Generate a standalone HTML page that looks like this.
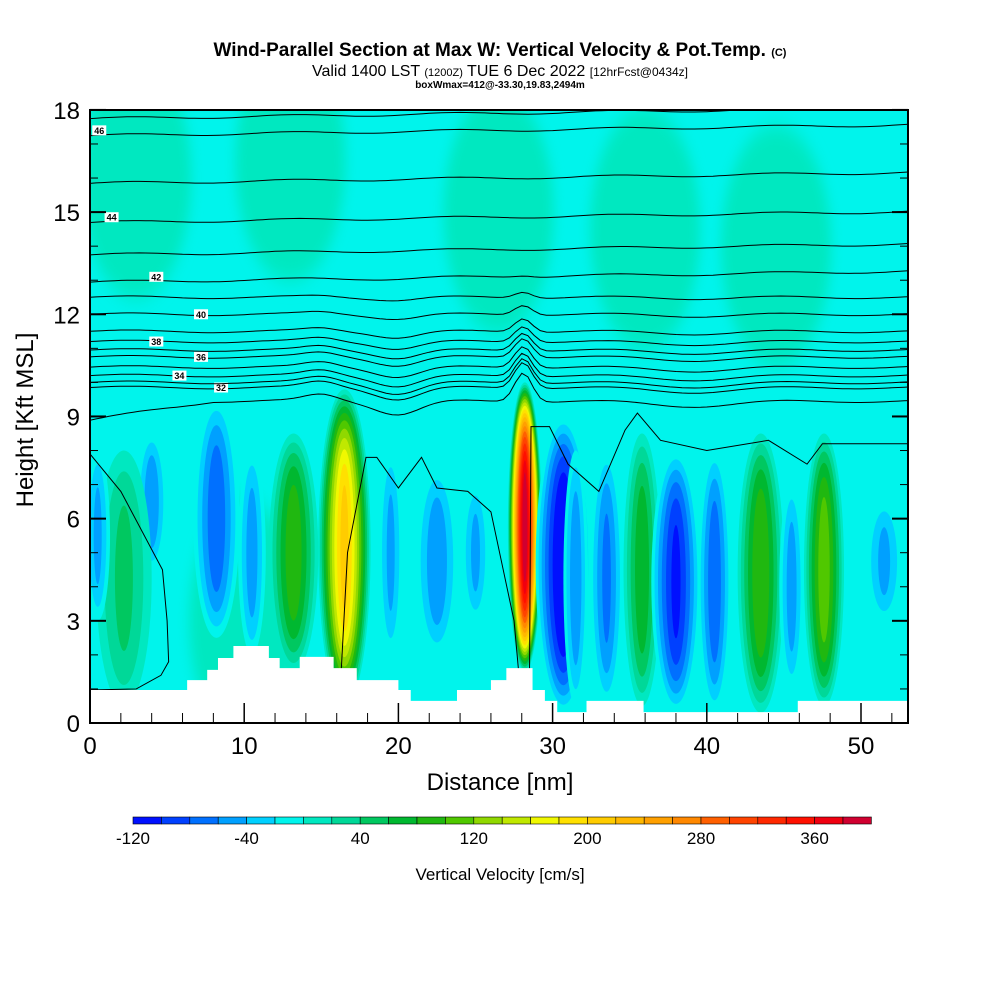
<!DOCTYPE html>
<html><head><meta charset="utf-8"><style>
body{margin:0;background:#fff;font-family:"Liberation Sans",sans-serif}
</style></head><body>
<svg id="c" width="1000" height="1000" viewBox="0 0 1000 1000" xmlns="http://www.w3.org/2000/svg">
<defs><clipPath id="pc"><rect x="90" y="110" width="818" height="613"/></clipPath>
<filter id="bl" x="-50%" y="-20%" width="200%" height="140%"><feGaussianBlur stdDeviation="6 10"/></filter></defs>
<text x="500" y="56" text-anchor="middle" font-size="19" font-weight="bold">Wind-Parallel Section at Max W: Vertical Velocity &amp; Pot.Temp. <tspan font-size="11">(C)</tspan></text>
<text x="500" y="76" text-anchor="middle" font-size="16">Valid 1400 LST <tspan font-size="11">(1200Z)</tspan> TUE 6 Dec 2022 <tspan font-size="12">[12hrFcst@0434z]</tspan></text>
<text x="500" y="88" text-anchor="middle" font-size="10" font-weight="bold">boxWmax=412@-33.30,19.83,2494m</text>
<g id="field" clip-path="url(#pc)"></g>
<g id="theta" clip-path="url(#pc)"></g>
<g id="terrain"></g>
<rect x="90" y="110" width="818" height="613" fill="none" stroke="#000" stroke-width="2"/>
<g id="axes"></g>
<text x="500" y="790" text-anchor="middle" font-size="24">Distance [nm]</text>
<text transform="translate(33,420) rotate(-90)" text-anchor="middle" font-size="24">Height [Kft MSL]</text>
<g id="cbar"></g>
<text x="500" y="880" text-anchor="middle" font-size="17">Vertical Velocity [cm/s]</text>
</svg>
<script>
const NS="http://www.w3.org/2000/svg";
const colors=["#0010ff","#0040ff","#0070ff","#00a0ff","#00d0ff","#00f4ec","#00e8c0","#00d898","#00c860","#00b830","#20b810","#50c800","#90d800","#c0e800","#f0f800","#ffe000","#ffcc00","#ffb800","#ffa000","#ff8800","#ff6000","#ff4400","#ff2800","#ff1000","#f00010","#d00030"];
const cbarTicks=[-120,-40,40,120,200,280,360];
const featX=[16.5,28.2,30.7,8.2,4.0,13.2,10.5,22.5,25,33.5,35.8,38.0,40.5,43.5,45.5,47.6,51.5,2.2,19.5,31.5,0.5];
const featBot=[0.5,1.5,0.3,2.5,4.5,1.5,2,2,3,0.5,0.5,0.3,0.3,0.3,1,0.5,3,0.5,2,0.5,3];
const featTop=[9.8,10,9,9.5,8.5,8.5,8,7.5,7,8,8.5,8,8,8.5,7,8.5,6.5,8,8,8,8];
const featW=[1.7,1.1,1.8,1.5,1.0,1.6,0.9,1.4,0.9,1.1,1.2,1.6,1.1,1.5,0.8,1.3,1.2,1.8,0.8,0.8,0.8];
const featV=[205,395,-125,-70,-50,90,-45,-50,-40,-60,70,-100,-70,95,-45,110,-40,40,-40,-50,-40];
const greenX=[3,13,26.5,36,44.5,10];
const greenY=[16,16.5,15,14.5,14,3];
const terrX=[0,6.3,7.6,8.3,9.3,11.6,12.3,13.6,15.8,17.3,20,20.8,23.8,26,27,28.7,29.5,30.3,32.2,35.9,45.9,53.2];
const terrH=[0.97,1.26,1.56,1.91,2.26,1.91,1.61,1.94,1.61,1.26,0.97,0.65,0.97,1.26,1.61,0.97,0.65,0.32,0.65,0.32,0.65,0.65];
const thetaLev=[31,32,33,34,35,36,37,38,39,40,41,42,43,44,45,46,47];
const thetaH=[9.45,9.85,10.0,10.2,10.45,10.75,10.95,11.2,11.5,12.0,12.5,13.1,13.9,14.85,16.0,17.4,17.9];
const thetaLabelX=[null,8.5,null,5.8,null,7.2,null,4.3,null,7.2,null,4.3,null,1.4,null,0.6,null];
const th30X=[0,2,4.7,5,5.1,4.6,3,0];
const th30Y=[7.9,6.8,4.5,3.0,1.8,1.4,1.0,0.97];
const X=v=>90+v*15.42, Y=v=>723-v*34.06;
function mk(tag,attrs,parent){const e=document.createElementNS(NS,tag);for(const k in attrs)e.setAttribute(k,attrs[k]);parent.appendChild(e);return e;}
const col=v=>colors[Math.max(0,Math.min(25,Math.floor((v+120)/20)))];
const field=document.getElementById('field');
const bg=mk('rect',{x:90,y:110,width:818,height:613,fill:col(-10)},field);


const gg=mk('g',{filter:'url(#bl)'},field);
greenX.forEach((x,i)=>{
 const e=mk('ellipse',{cx:X(x),cy:Y(greenY[i]),rx:55,ry:120,fill:col(10)},gg);
 
 
});
featX.forEach((cx,i)=>{
 const pk=featV[i],sgn=Math.sign(pk);
 const cy=(featBot[i]+featTop[i])/2, ry=(featTop[i]-featBot[i])/2;
 for(let lv=10;lv<=Math.abs(pk)+10;lv+=20){
  const v=sgn*lv;const f=Math.pow(Math.max(0,1-(lv-10)/(Math.abs(pk)+10)),0.7);
  if(f<=0)continue;
  const e=mk('ellipse',{cx:X(cx),cy:Y(cy),rx:featW[i]*15.42*f,ry:ry*34.06*Math.pow(f,0.5),fill:col(v)},field);
  
  
 }
});
const th=document.getElementById('theta');
thetaLev.forEach((lv,i)=>{
 let d='';const damp=Math.max(0,1-(thetaH[i]-9.3)/4);
 for(let x=0;x<=53.2;x+=0.4){
  let h=thetaH[i]+0.9*damp*Math.exp(-Math.pow((x-28.1)/0.8,2))-0.4*damp*Math.exp(-Math.pow((x-20)/2,2))+0.2*damp*Math.exp(-Math.pow((x-15)/1.5,2))-0.15*damp*Math.exp(-Math.pow((x-39)/4,2));
  if(i==0&&x<8)h-=0.07*(8-x);
  h+=0.04*Math.sin(x*0.6)+0.006*(x-26)*(thetaH[i]>13?1:0);
  d+=(d?'L':'M')+X(x).toFixed(1)+' '+Y(h).toFixed(1);
 }
 const p=mk('path',{d:d,fill:'none',stroke:'#000','stroke-width':1},th);
 
 
 if(thetaLabelX[i]!=null){
  const lx=X(thetaLabelX[i]),ly=Y(thetaH[i]);
  const r=mk('rect',{x:lx-7,y:ly-5,width:14,height:10,fill:'#fff'},th);
  
  
  const t=mk('text',{x:lx,y:ly+3.5,'font-size':9,'font-weight':'bold','text-anchor':'middle'},th);t.textContent=lv;
  
  
 }
});
let d30='';th30X.forEach((x,i)=>d30+=(i?'L':'M')+X(x)+' '+Y(th30Y[i]));
const p30=mk('path',{d:d30+' M'+X(16.3)+' '+Y(1.6)+' L'+X(16.7)+' '+Y(5)+' L'+X(17.9)+' '+Y(7.8)+' L'+X(18.6)+' '+Y(7.8)+' L'+X(20)+' '+Y(6.9)+' L'+X(21.5)+' '+Y(7.8)+' L'+X(22.5)+' '+Y(6.9)+' L'+X(24.5)+' '+Y(6.8)+' L'+X(26)+' '+Y(6.2)+' L'+X(27.5)+' '+Y(3)+' L'+X(27.8)+' '+Y(1.5)+' M'+X(28.5)+' '+Y(1.2)+' L'+X(28.6)+' '+Y(8.7)+' L'+X(29.8)+' '+Y(8.7)+' L'+X(31)+' '+Y(7.6)+' L'+X(33)+' '+Y(6.8)+' L'+X(34.7)+' '+Y(8.6)+' L'+X(35.5)+' '+Y(9.1)+' L'+X(37)+' '+Y(8.3)+' L'+X(40)+' '+Y(8.0)+' L'+X(44)+' '+Y(8.3)+' L'+X(46.5)+' '+Y(7.6)+' L'+X(47.5)+' '+Y(8.2)+' L'+X(53.2)+' '+Y(8.2),fill:'none',stroke:'#000','stroke-width':1},th);


let td='M'+X(0)+' '+Y(0);
terrX.forEach((x,i)=>{td+=' L'+X(x)+' '+Y(terrH[i]);if(i<terrX.length-1)td+=' L'+X(terrX[i+1])+' '+Y(terrH[i]);});
td+=' L'+X(53.2)+' '+Y(0)+'Z';
const tp=mk('path',{d:td,fill:'#fff'},document.getElementById('terrain'));


const ax=document.getElementById('axes');
[0,3,6,9,12,15,18].forEach(v=>{
 const t=mk('text',{x:80,y:Y(v)+9,'text-anchor':'end','font-size':24},ax);t.textContent=v;
 
 
 mk('line',{x1:90,x2:106,y1:Y(v),y2:Y(v),stroke:'#000','stroke-width':2},ax);
 mk('line',{x1:892,x2:908,y1:Y(v),y2:Y(v),stroke:'#000','stroke-width':2},ax);
});
for(let v=1;v<18;v++){if(v%3){mk('line',{x1:90,x2:98,y1:Y(v),y2:Y(v),stroke:'#000'},ax);mk('line',{x1:900,x2:908,y1:Y(v),y2:Y(v),stroke:'#000'},ax);}}
[0,10,20,30,40,50].forEach(v=>{
 const t=mk('text',{x:X(v),y:754,'text-anchor':'middle','font-size':24},ax);t.textContent=v;
 
 
 mk('line',{x1:X(v),x2:X(v),y1:723,y2:703,stroke:'#000','stroke-width':1.5},ax);
});
for(let v=2;v<53;v+=2){if(v%10)mk('line',{x1:X(v),x2:X(v),y1:723,y2:713,stroke:'#000'},ax);}
const cb=document.getElementById('cbar');
colors.forEach((c,i)=>{
 const r=mk('rect',{x:133+i*28.4,y:817,width:28.4,height:7,fill:c,stroke:'#000','stroke-width':0.6},cb);
 
 
});
cbarTicks.forEach(v=>{
 const t=mk('text',{x:133+(v+120)/20*28.4,y:844,'text-anchor':'middle','font-size':17},cb);t.textContent=v;
 
 
});
</script>
</body></html>
